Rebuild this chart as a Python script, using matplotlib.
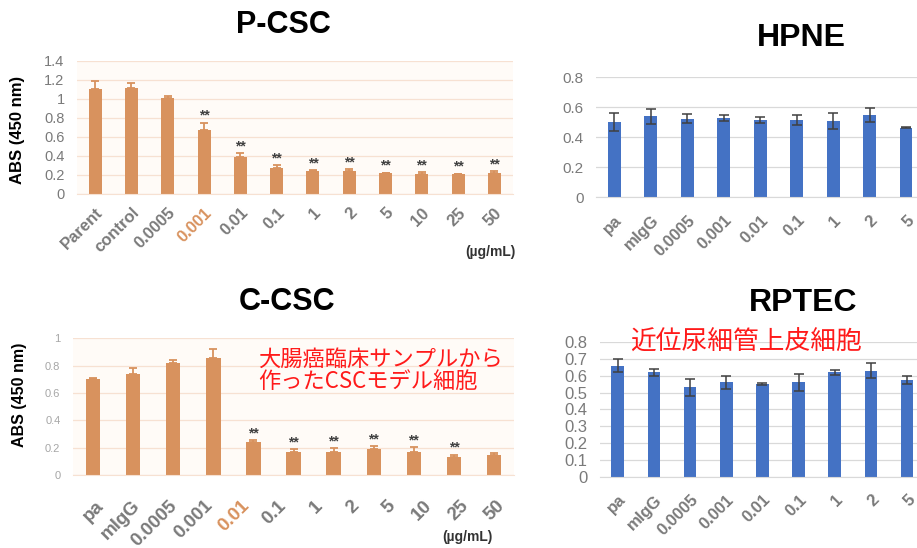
import numpy as np
import matplotlib.pyplot as plt
from matplotlib.ticker import FuncFormatter

plt.rcParams['font.family'] = ['Liberation Sans', 'Noto Sans CJK JP', 'DejaVu Sans']

# P-CSC (pancreatic CSC)
pcsc_labels = ['Parent', 'control', '0.0005', '0.001', '0.01', '0.1', '1', '2', '5', '10', '25', '50']
pcsc_mean = [1.10, 1.11, 1.01, 0.67, 0.39, 0.27, 0.24, 0.24, 0.22, 0.21, 0.21, 0.22]
pcsc_err = [0.09, 0.06, 0.02, 0.08, 0.04, 0.03, 0.01, 0.02, 0.005, 0.02, 0.005, 0.02]
pcsc_sig = [False, False, False, True, True, True, True, True, True, True, True, True]
pcsc_highlight = '0.001'

# C-CSC (colorectal CSC)
ccsc_labels = ['pa', 'mIgG', '0.0005', '0.001', '0.01', '0.1', '1', '2', '5', '10', '25', '50']
ccsc_mean = [0.70, 0.74, 0.82, 0.855, 0.24, 0.17, 0.17, 0.19, 0.17, 0.135, 0.145]
ccsc_err = [0.01, 0.04, 0.02, 0.065, 0.015, 0.02, 0.025, 0.02, 0.035, 0.015, 0.017]
ccsc_sig = [False, False, False, False, True, True, True, True, True, True, False]
ccsc_highlight = '0.01'

# normal cells
normal_labels = ['pa', 'mIgG', '0.0005', '0.001', '0.01', '0.1', '1', '2', '5']
hpne_mean = [0.50, 0.54, 0.525, 0.53, 0.515, 0.515, 0.51, 0.55, 0.465]
hpne_err = [0.06, 0.05, 0.03, 0.02, 0.02, 0.035, 0.055, 0.045, 0.005]
rptec_mean = [0.66, 0.62, 0.53, 0.56, 0.55, 0.56, 0.62, 0.63, 0.575]
rptec_err = [0.04, 0.02, 0.05, 0.04, 0.004, 0.05, 0.015, 0.045, 0.025]

ORANGE = '#d8925e'
BLUE = '#4472c4'
GRAY = '#7a7a7a'

fig = plt.figure(figsize=(9.17, 5.48), dpi=100)
fmt = FuncFormatter(lambda v, p: f'{v:g}')


def style(ax, grid_color, face='white'):
    ax.set_facecolor(face)
    for s in ['top', 'right', 'left']:
        ax.spines[s].set_visible(False)
    ax.spines['bottom'].set_color(grid_color)
    ax.yaxis.grid(True, color=grid_color, lw=0.9)
    ax.set_axisbelow(True)
    ax.tick_params(length=0)
    ax.yaxis.set_major_formatter(fmt)


def orange_panel(ax, labels, mean, err, sig, highlight, ymax, ystep,
                 ysize, ycolor, xsize, xpad, label_pos):
    x = np.arange(len(mean))
    style(ax, '#f7e1d2', '#fffbf7')
    ax.bar(x, mean, width=0.36, color=ORANGE)
    ax.errorbar(x, mean, yerr=[np.zeros(len(err)), err], fmt='none',
                ecolor=ORANGE, elinewidth=1.3, capsize=3, capthick=1.3)
    for i, s in enumerate(sig):
        if s:
            ax.annotate('**', xy=(i, mean[i] + err[i]), xytext=(0, 5),
                        textcoords='offset points', ha='center', va='center',
                        fontsize=10, fontweight='bold', color='#404040')
    ax.set_xlim(-0.5, len(mean) - 0.5)
    ax.set_ylim(0, ymax)
    ax.set_yticks(np.arange(0, ymax + 1e-6, ystep))
    ax.tick_params(axis='y', labelsize=ysize, labelcolor=ycolor, pad=9)
    ax.set_xticks(label_pos)
    ax.set_xticklabels(labels, rotation=45, ha='right', rotation_mode='anchor',
                       fontsize=xsize, fontweight='bold', color=GRAY)
    ax.tick_params(axis='x', pad=xpad)
    for t in ax.get_xticklabels():
        if t.get_text() == highlight:
            t.set_color(ORANGE)


def blue_panel(ax, labels, mean, err, ymax, ystep, ysize):
    x = np.arange(len(mean))
    style(ax, '#d9d9d9')
    ax.bar(x, mean, width=0.35, color=BLUE)
    ax.errorbar(x, mean, yerr=err, fmt='none', ecolor='#404040',
                elinewidth=1.1, capsize=3.5, capthick=1.1)
    ax.set_xlim(-0.5, len(mean) - 0.5)
    ax.set_ylim(0, ymax)
    ax.set_yticks(np.arange(0, ymax + 1e-6, ystep))
    ax.tick_params(axis='y', labelsize=ysize, labelcolor=GRAY, pad=9)
    ax.set_xticks(x)
    ax.set_xticklabels(labels, rotation=45, ha='right', rotation_mode='anchor',
                       fontsize=12, fontweight='bold', color=GRAY)
    ax.tick_params(axis='x', pad=11)


# P-CSC
ax1 = fig.add_axes([0.084, 0.646, 0.475, 0.243])
orange_panel(ax1, pcsc_labels, pcsc_mean, pcsc_err, pcsc_sig, pcsc_highlight,
             1.4, 0.2, 10.5, GRAY, 12, 8, np.arange(len(pcsc_labels)))
fig.text(283 / 917, 1 - 25 / 548, 'P-CSC', ha='center', va='center',
         fontsize=22, fontweight='bold')
fig.text(18 / 917, 1 - 130 / 548, 'ABS (450 nm)', rotation=90, ha='center',
         va='center', fontsize=12, fontweight='bold')
fig.text(490 / 917, 1 - 252 / 548, '(µg/mL)', ha='center', va='center',
         fontsize=10, fontweight='bold', color='#333333')

# C-CSC: 11 bars, labels spread across the same span
ax2 = fig.add_axes([0.0796, 0.1332, 0.481, 0.2494])
orange_panel(ax2, ccsc_labels, ccsc_mean, ccsc_err, ccsc_sig, ccsc_highlight,
             1.0, 0.2, 8, '#a6a6a6', 13.5, 16,
             np.linspace(0.05, len(ccsc_mean) - 0.95, len(ccsc_labels)))
fig.text(287 / 917, 1 - 302 / 548, 'C-CSC', ha='center', va='center',
         fontsize=22, fontweight='bold')
fig.text(20 / 917, 1 - 395 / 548, 'ABS (450 nm)', rotation=90, ha='center',
         va='center', fontsize=11.5, fontweight='bold')
fig.text(467 / 917, 1 - 537 / 548, '(µg/mL)', ha='center', va='center',
         fontsize=10, fontweight='bold', color='#333333')
fig.text(258 / 917, 1 - 359 / 548, '大腸癌臨床サンプルから', ha='left', va='center',
         fontsize=16, color='#ff1a1a', family=['Noto Sans CJK JP', 'DejaVu Sans'])
fig.text(258 / 917, 1 - 381 / 548, '作ったCSCモデル細胞', ha='left', va='center',
         fontsize=16, color='#ff1a1a', family=['Noto Sans CJK JP', 'DejaVu Sans'])

# HPNE
ax3 = fig.add_axes([0.650, 0.640, 0.358, 0.219])
blue_panel(ax3, normal_labels, hpne_mean, hpne_err, 0.8, 0.2, 11)
fig.text(801 / 917, 1 - 38 / 548, 'HPNE', ha='center', va='center',
         fontsize=23, fontweight='bold')

# RPTEC
ax4 = fig.add_axes([0.654, 0.130, 0.355, 0.246])
blue_panel(ax4, normal_labels, rptec_mean, rptec_err, 0.8, 0.1, 12)
fig.text(803 / 917, 1 - 303 / 548, 'RPTEC', ha='center', va='center',
         fontsize=23, fontweight='bold')
fig.text(746 / 917, 1 - 343 / 548, '近位尿細管上皮細胞', ha='center', va='center',
         fontsize=18.5, color='#ff1a1a', family=['Noto Sans CJK JP', 'DejaVu Sans'])

fig.savefig('out.png', dpi=100)
